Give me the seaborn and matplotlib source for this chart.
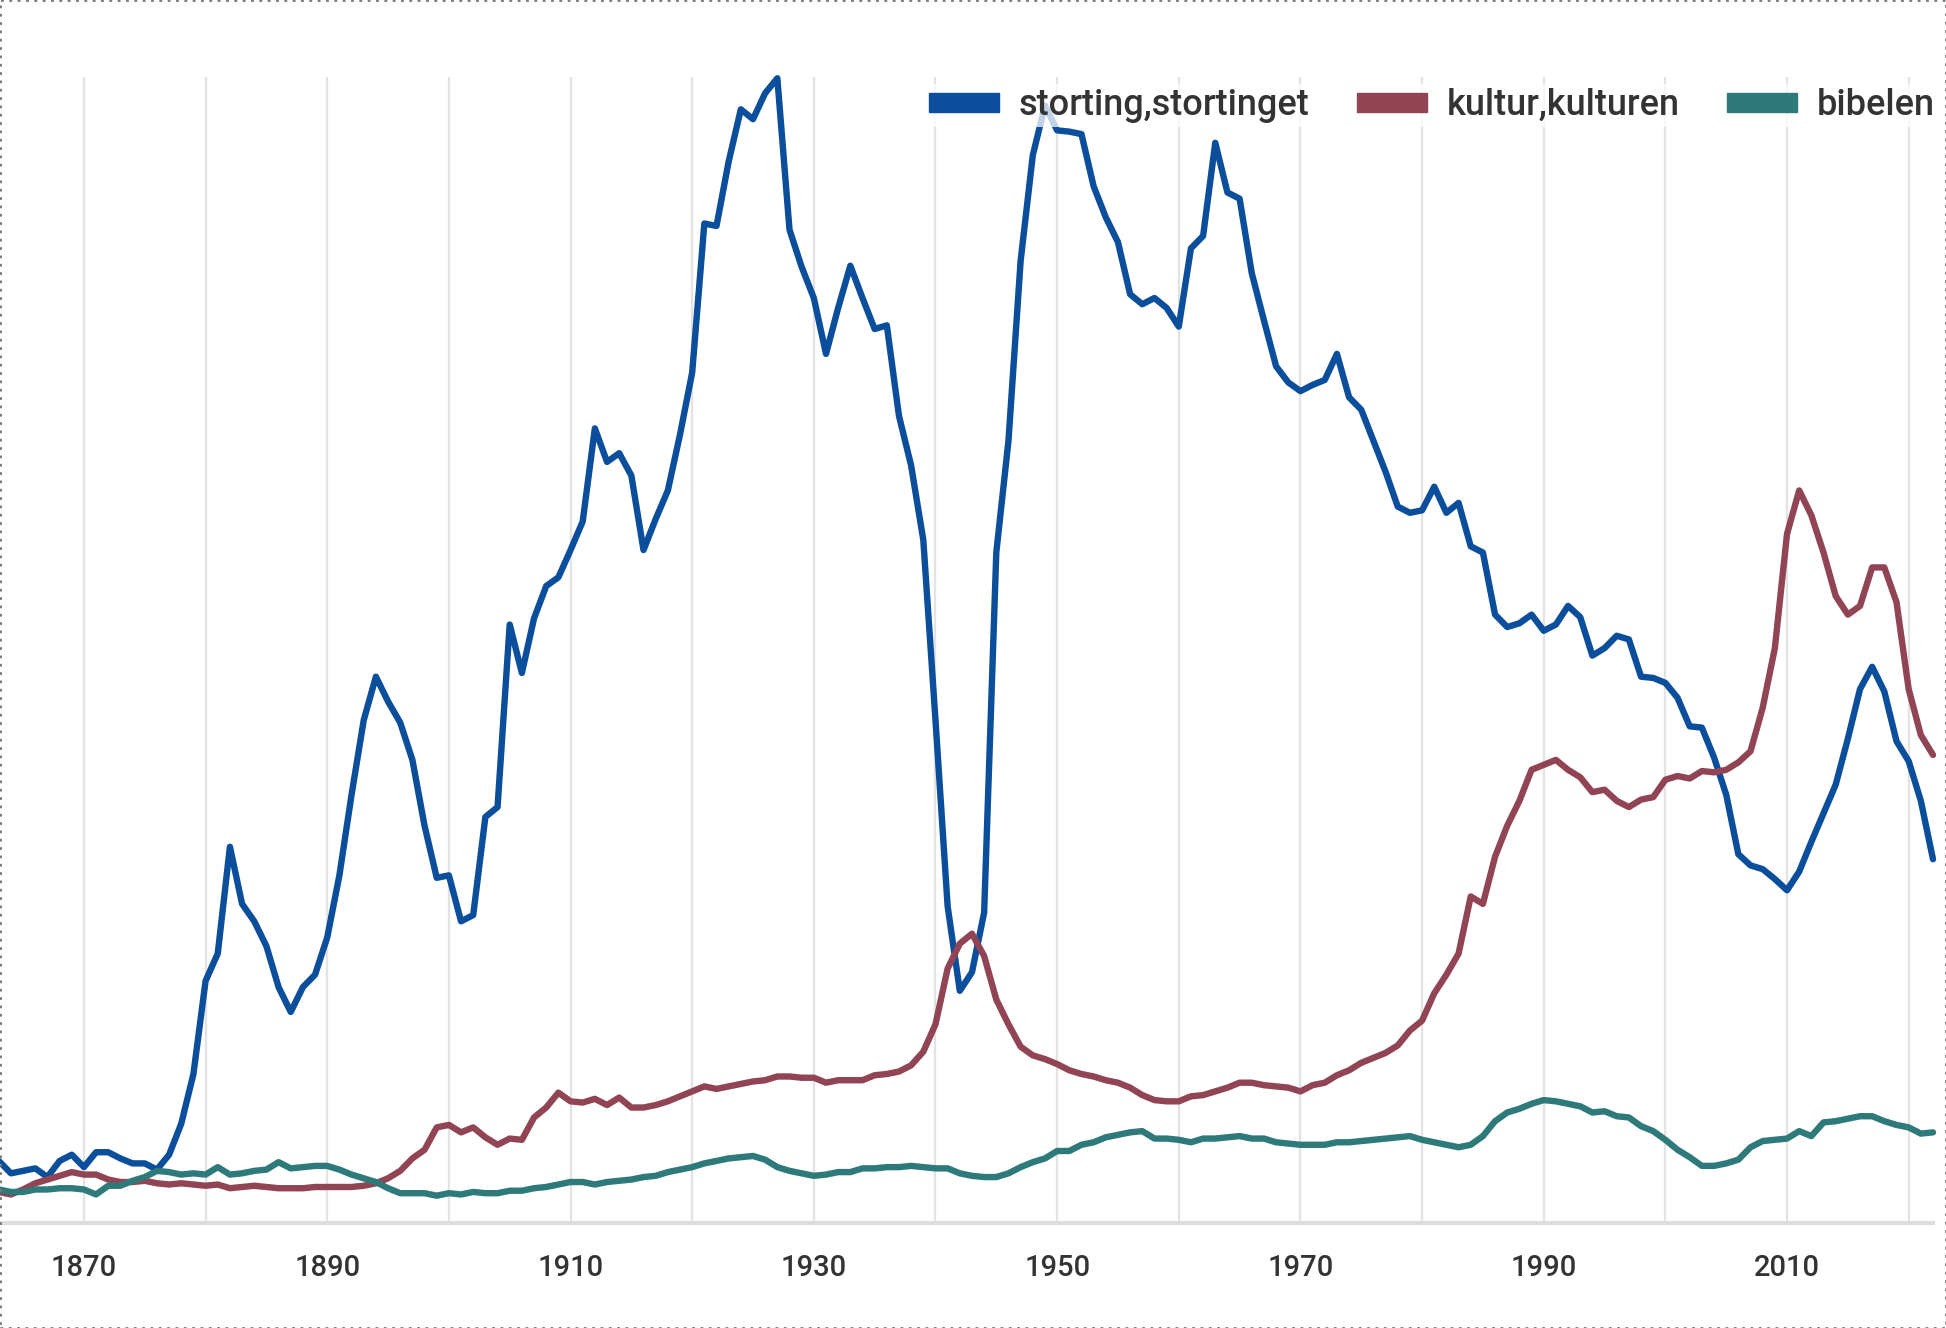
import numpy as np
import pandas as pd
import matplotlib
matplotlib.use("Agg")
import matplotlib.pyplot as plt
import seaborn as sns
from matplotlib.patches import Rectangle

years = list(range(1863, 2023))

storting = [
    50, 40, 42, 44, 37, 50, 55, 45, 57, 57,
    52, 48, 48, 43, 55, 80, 120, 195, 217, 303,
    257, 243, 223, 190, 170, 190, 200, 230, 280, 345,
    405, 440, 420, 403, 373, 320, 278, 280, 243, 248,
    327, 335, 482, 443, 487, 513, 520, 542, 565, 640,
    613, 620, 602, 542, 567, 590, 635, 685, 805, 803,
    855, 897, 889, 910, 922, 800, 770, 745, 700, 737,
    771, 745, 720, 723, 650, 610, 550, 405, 255, 187,
    202, 250, 540, 630, 775, 860, 900, 880, 879, 877,
    835, 810, 790, 748, 740, 745, 737, 722, 785, 795,
    870, 830, 825, 765, 727, 690, 677, 670, 675, 679,
    700, 665, 655, 630, 605, 577, 572, 574, 593, 572,
    580, 545, 540, 490, 480, 483, 490, 477, 482, 497,
    488, 457, 463, 473, 470, 440, 439, 435, 423, 400,
    399, 375, 345, 297, 288, 285, 277, 268, 283, 307,
    330, 353, 390, 430, 448, 428, 388, 372, 340, 293,
]

kultur = [
    25, 23, 27, 32, 35, 38, 41, 39, 39, 35,
    33, 33, 34, 32, 31, 32, 31, 30, 31, 28,
    29, 30, 29, 28, 28, 28, 29, 29, 29, 29,
    30, 32, 36, 42, 52, 59, 77, 79, 73, 77,
    69, 63, 68, 67, 85, 93, 105, 98, 97, 100,
    95, 101, 93, 93, 95, 98, 102, 106, 110, 108,
    110, 112, 114, 115, 118, 118, 117, 117, 113, 115,
    115, 115, 119, 120, 122, 127, 138, 160, 205, 225,
    233, 215, 180, 160, 142, 135, 132, 128, 123, 120,
    118, 115, 113, 109, 103, 99, 98, 98, 102, 103,
    106, 109, 113, 113, 111, 110, 109, 106, 111, 113,
    119, 123, 129, 133, 137, 143, 155, 163, 185, 200,
    217, 263, 257, 295, 320, 340, 365, 369, 373, 365,
    359, 347, 349, 340, 335, 341, 343, 357, 360, 358,
    364, 363, 365, 371, 380, 415, 463, 555, 590, 570,
    540, 505, 490, 497, 528, 528, 500, 430, 393, 377,
]

bibelen = [
    27, 25, 25, 27, 27, 28, 28, 27, 23, 30,
    30, 34, 37, 42, 41, 39, 40, 39, 45, 39,
    40, 42, 43, 49, 44, 45, 46, 46, 43, 39,
    36, 33, 28, 24, 24, 24, 22, 24, 23, 25,
    24, 24, 26, 26, 28, 29, 31, 33, 33, 31,
    33, 34, 35, 37, 38, 41, 43, 45, 48, 50,
    52, 53, 54, 51, 45, 42, 40, 38, 39, 41,
    41, 44, 44, 45, 45, 46, 45, 44, 44, 40,
    38, 37, 37, 40, 45, 49, 52, 58, 58, 63,
    65, 69, 71, 73, 74, 68, 68, 67, 65, 68,
    68, 69, 70, 68, 68, 65, 64, 63, 63, 63,
    65, 65, 66, 67, 68, 69, 70, 67, 65, 63,
    61, 63, 70, 82, 89, 92, 96, 99, 98, 96,
    94, 89, 90, 86, 85, 78, 74, 67, 59, 53,
    46, 46, 48, 51, 61, 66, 67, 68, 74, 70,
    81, 82, 84, 86, 86, 82, 79, 77, 72, 73,
]

labels = ["storting,stortinget", "kultur,kulturen", "bibelen"]
colors = ["#0a4e9c", "#914453", "#2e7a7a"]

df = pd.DataFrame({"year": years, labels[0]: storting, labels[1]: kultur, labels[2]: bibelen})
long = df.melt(id_vars="year", var_name="ord", value_name="freq")

sns.set_theme(style="white")
plt.rcParams["font.family"] = ["Roboto", "DejaVu Sans"]

fig = plt.figure(figsize=(19.46, 13.28), dpi=100)
ax = fig.add_axes([0.0, 1 - 1223 / 1328, 1933 / 1946, (1223 - 77) / 1328])

sns.lineplot(data=long, x="year", y="freq", hue="ord", palette=colors,
             linewidth=4.6, ax=ax, legend=False, clip_on=False)

ax.set_xlim(1863.1, 2022)
ax.set_ylim(0, 923)
ax.set_xlabel("")
ax.set_ylabel("")
ax.set_yticks([])

# grid every decade, labels every 20 years
ax.set_xticks(range(1870, 2030, 10))
ax.set_xticklabels([str(y) if (y - 1870) % 20 == 0 else "" for y in range(1870, 2030, 10)])
ax.grid(axis="x", color="#e3e3e3", linewidth=1.6)
ax.tick_params(axis="x", length=9.5, width=1.6, color="#e3e3e3", pad=13,
               labelsize=21, labelcolor="#333333")
for t in ax.get_xticklabels():
    t.set_fontweight("medium")
ax.set_axisbelow(True)
for s in ["top", "left", "right"]:
    ax.spines[s].set_visible(False)
ax.spines["bottom"].set_color("#dddddd")
ax.spines["bottom"].set_linewidth(3)

handles = [Rectangle((0, 0), 1, 1, color=c) for c in colors]
leg = ax.legend(handles, labels, loc="upper right", ncol=3, frameon=True,
                bbox_to_anchor=(1.003, 0.9935), fontsize=26, handlelength=1.95,
                handleheight=0.42, handletextpad=0.55, columnspacing=1.3,
                borderaxespad=0.0, borderpad=0.1)
leg.get_frame().set_facecolor("white")
leg.get_frame().set_edgecolor("none")
leg.get_frame().set_alpha(0.75)
for t in leg.get_texts():
    t.set_color("#333333")
    t.set_fontweight("medium")

# screenshot-like frame
fig.add_artist(Rectangle((0, 0), 1, 1, transform=fig.transFigure, fill=False,
                         edgecolor="#777777", linewidth=2, linestyle=(0, (1, 2))))

fig.savefig("out.png", dpi=100)
